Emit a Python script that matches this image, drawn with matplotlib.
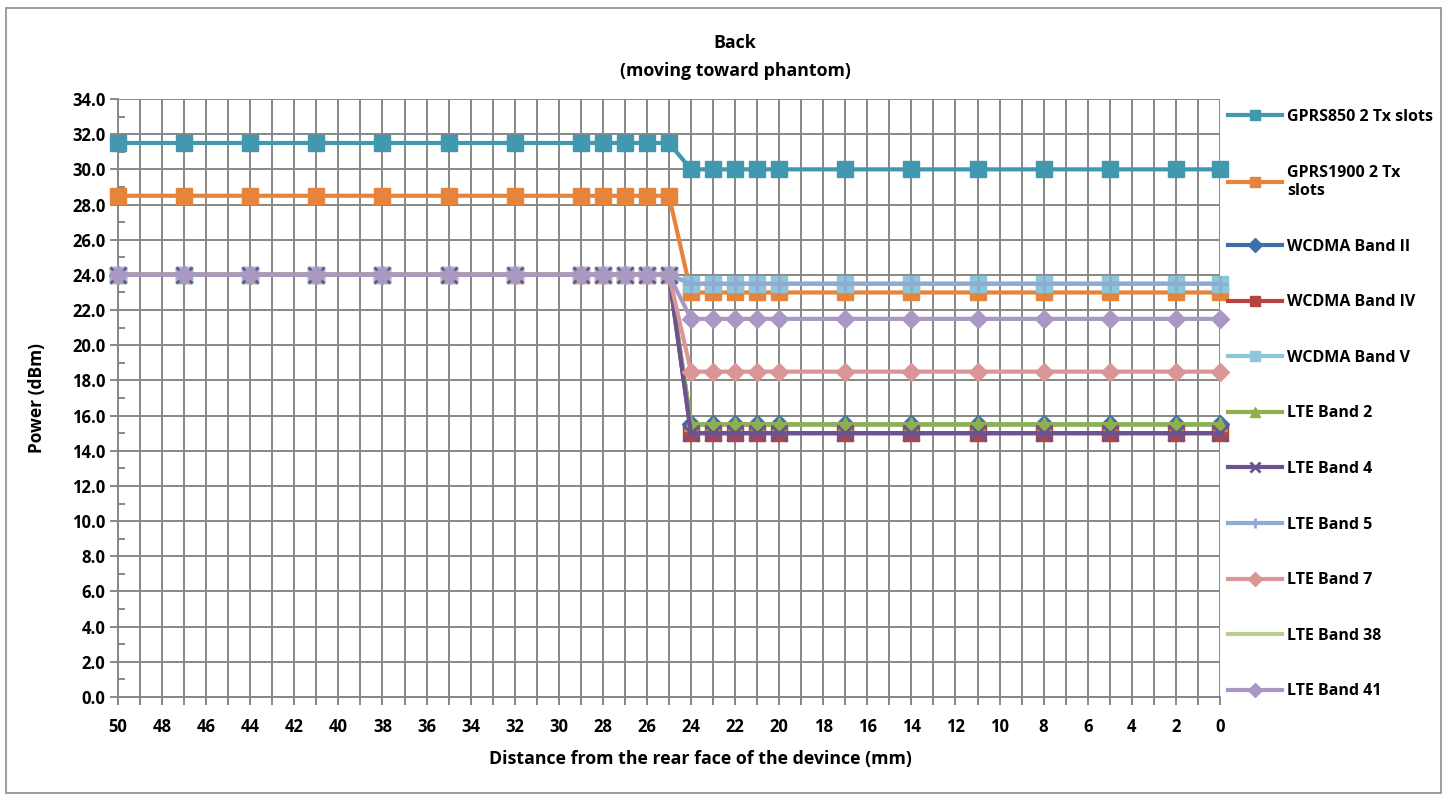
import matplotlib
matplotlib.use('Agg')
import matplotlib.pyplot as plt
from matplotlib.ticker import MultipleLocator, FormatStrFormatter
from matplotlib.patches import Rectangle

plt.rcParams['font.family'] = ['Open Sans', 'DejaVu Sans']
plt.rcParams['font.weight'] = 'bold'

########
# data #
########

distance = [50, 47, 44, 41, 38, 35, 32, 29, 28, 27, 26, 25,
            24, 23, 22, 21, 20, 17, 14, 11, 8, 5, 2, 0]

gprs850 = [31.5, 31.5, 31.5, 31.5, 31.5, 31.5, 31.5, 31.5, 31.5, 31.5, 31.5, 31.5,
           30.0, 30.0, 30.0, 30.0, 30.0, 30.0, 30.0, 30.0, 30.0, 30.0, 30.0, 30.0]
gprs1900 = [28.5, 28.5, 28.5, 28.5, 28.5, 28.5, 28.5, 28.5, 28.5, 28.5, 28.5, 28.5,
            23.0, 23.0, 23.0, 23.0, 23.0, 23.0, 23.0, 23.0, 23.0, 23.0, 23.0, 23.0]
wcdma_b2 = [24.0, 24.0, 24.0, 24.0, 24.0, 24.0, 24.0, 24.0, 24.0, 24.0, 24.0, 24.0,
            15.5, 15.5, 15.5, 15.5, 15.5, 15.5, 15.5, 15.5, 15.5, 15.5, 15.5, 15.5]
wcdma_b4 = [24.0, 24.0, 24.0, 24.0, 24.0, 24.0, 24.0, 24.0, 24.0, 24.0, 24.0, 24.0,
            15.0, 15.0, 15.0, 15.0, 15.0, 15.0, 15.0, 15.0, 15.0, 15.0, 15.0, 15.0]
wcdma_b5 = [24.0, 24.0, 24.0, 24.0, 24.0, 24.0, 24.0, 24.0, 24.0, 24.0, 24.0, 24.0,
            23.5, 23.5, 23.5, 23.5, 23.5, 23.5, 23.5, 23.5, 23.5, 23.5, 23.5, 23.5]
lte_b2 = [24.0, 24.0, 24.0, 24.0, 24.0, 24.0, 24.0, 24.0, 24.0, 24.0, 24.0, 24.0,
          15.5, 15.5, 15.5, 15.5, 15.5, 15.5, 15.5, 15.5, 15.5, 15.5, 15.5, 15.5]
lte_b4 = [24.0, 24.0, 24.0, 24.0, 24.0, 24.0, 24.0, 24.0, 24.0, 24.0, 24.0, 24.0,
          15.0, 15.0, 15.0, 15.0, 15.0, 15.0, 15.0, 15.0, 15.0, 15.0, 15.0, 15.0]
lte_b5 = [24.0, 24.0, 24.0, 24.0, 24.0, 24.0, 24.0, 24.0, 24.0, 24.0, 24.0, 24.0,
          23.5, 23.5, 23.5, 23.5, 23.5, 23.5, 23.5, 23.5, 23.5, 23.5, 23.5, 23.5]
lte_b7 = [24.0, 24.0, 24.0, 24.0, 24.0, 24.0, 24.0, 24.0, 24.0, 24.0, 24.0, 24.0,
          18.5, 18.5, 18.5, 18.5, 18.5, 18.5, 18.5, 18.5, 18.5, 18.5, 18.5, 18.5]
lte_b38 = [24.0, 24.0, 24.0, 24.0, 24.0, 24.0, 24.0, 24.0, 24.0, 24.0, 24.0, 24.0,
           15.5, 15.5, 15.5, 15.5, 15.5, 15.5, 15.5, 15.5, 15.5, 15.5, 15.5, 15.5]
lte_b41 = [24.0, 24.0, 24.0, 24.0, 24.0, 24.0, 24.0, 24.0, 24.0, 24.0, 24.0, 24.0,
           21.5, 21.5, 21.5, 21.5, 21.5, 21.5, 21.5, 21.5, 21.5, 21.5, 21.5, 21.5]

# (label, values, colour, marker, zorder)
series = [
    ('GPRS850 2 Tx slots', gprs850, '#4198AF', 's', 3),
    ('GPRS1900 2 Tx\nslots', gprs1900, '#E5843A', 's', 3),
    ('WCDMA Band II', wcdma_b2, '#3F6FAA', 'D', 3),
    ('WCDMA Band IV', wcdma_b4, '#B54441', 's', 3),
    ('WCDMA Band V', wcdma_b5, '#8CC6D8', 's', 3),
    ('LTE Band 2', lte_b2, '#8EB04D', '^', 3.2),
    ('LTE Band 4', lte_b4, '#6B5290', 'x', 3.3),
    ('LTE Band 5', lte_b5, '#8FAAD3', '+', 3.3),
    ('LTE Band 7', lte_b7, '#D99694', 'D', 3.3),
    ('LTE Band 38', lte_b38, '#B8CF90', None, 3.1),
    ('LTE Band 41', lte_b41, '#A998C4', 'D', 3.4),
]

########
# plot #
########

fig = plt.figure(figsize=(14.48, 8.01), dpi=100)
fig.patches.append(Rectangle((0.004, 0.010), 0.991, 0.980, transform=fig.transFigure,
                             fill=False, edgecolor='#8C8C8C', linewidth=1.2))

ax = fig.add_axes([0.0815, 0.1298, 0.7610, 0.7466])

for label, vals, color, marker, z in series:
    ms = 11
    mew = 1
    if marker == 'D':
        ms = 9.5
    if marker == '^':
        ms = 10
    if marker in ('x', '+'):
        mew = 2
        ms = 11
    ax.plot(distance, vals, color=color, linewidth=3, marker=marker, markersize=ms,
            markeredgewidth=mew, markeredgecolor=color, label=label, zorder=z,
            clip_on=False)

ax.set_xlim(50, 0)
ax.set_ylim(0, 34)
ax.xaxis.set_major_locator(MultipleLocator(2))
ax.xaxis.set_minor_locator(MultipleLocator(1))
ax.yaxis.set_major_locator(MultipleLocator(2))
ax.yaxis.set_minor_locator(MultipleLocator(1))
ax.yaxis.set_major_formatter(FormatStrFormatter('%.1f'))

ax.grid(which='both', axis='x', color='#878787', linewidth=1.4)
ax.grid(which='major', axis='y', color='#878787', linewidth=1.4)
ax.set_axisbelow(True)

for s in ['top', 'right']:
    ax.spines[s].set_visible(False)
for s in ['left', 'bottom']:
    ax.spines[s].set_color('#878787')
    ax.spines[s].set_linewidth(1.4)

ax.tick_params(axis='both', which='major', labelsize=12, color='#878787',
               width=1.4, length=6, direction='out')
ax.tick_params(axis='x', which='minor', color='#878787', width=1.4, length=6,
               direction='out')
ax.tick_params(axis='y', which='minor', color='#878787', width=1.4, length=5,
               direction='in')
ax.tick_params(axis='x', which='major', pad=9)
ax.tick_params(axis='y', which='major', pad=3)
for t in ax.get_xticklabels() + ax.get_yticklabels():
    t.set_fontweight('bold')

ax.set_ylabel('Power (dBm)', fontsize=12.5, fontweight='bold', labelpad=19)

fig.text(0.5076, 0.946, 'Back', ha='center', va='center', fontsize=12.8, fontweight='bold')
fig.text(0.5076, 0.911, '(moving toward phantom)', ha='center', va='center',
         fontsize=12.8, fontweight='bold')
fig.text(0.4834, 0.053, 'Distance from the rear face of the devince (mm)',
         ha='center', va='center', fontsize=12.8, fontweight='bold')

leg = fig.legend(loc='upper left', bbox_to_anchor=(0.848, 0.864), frameon=False,
                 borderpad=0, borderaxespad=0, labelspacing=2.48,
                 handlelength=3.4, handletextpad=0.3,
                 prop={'size': 11.5, 'weight': 'bold'})
for h in leg.legend_handles:
    h.set_markersize(7)

fig.savefig('out.png', dpi=100)
